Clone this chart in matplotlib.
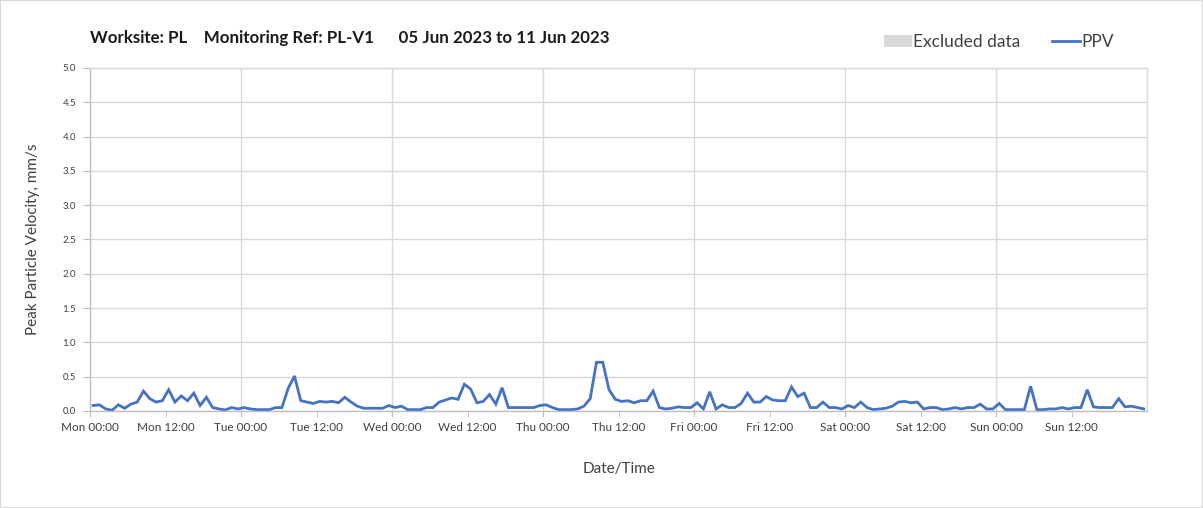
import numpy as np
import pandas as pd
import matplotlib
matplotlib.use("Agg")
import matplotlib.pyplot as plt
import matplotlib.dates as mdates
from matplotlib.patches import Patch, Rectangle
from matplotlib.lines import Line2D

plt.rcParams['font.family'] = ['Lato', 'DejaVu Sans']

# hourly PPV values (mm/s), one list per day, starting Mon 05 Jun 2023 00:30
mon = [0.08, 0.09, 0.03, 0.01, 0.09, 0.04, 0.10, 0.13, 0.29, 0.18, 0.13, 0.15,
       0.31, 0.13, 0.22, 0.15, 0.26, 0.08, 0.20, 0.05, 0.03, 0.015, 0.05, 0.03]
tue = [0.05, 0.03, 0.02, 0.02, 0.02, 0.05, 0.05, 0.33, 0.51, 0.15, 0.13, 0.11,
       0.14, 0.13, 0.14, 0.12, 0.20, 0.13, 0.07, 0.04, 0.04, 0.04, 0.04, 0.08]
wed = [0.05, 0.07, 0.02, 0.02, 0.02, 0.05, 0.05, 0.13, 0.16, 0.19, 0.17, 0.39,
       0.32, 0.12, 0.14, 0.24, 0.10, 0.34, 0.05, 0.05, 0.05, 0.05, 0.05, 0.08]
thu = [0.09, 0.05, 0.02, 0.02, 0.02, 0.03, 0.07, 0.18, 0.71, 0.71, 0.31, 0.17,
       0.14, 0.15, 0.12, 0.15, 0.15, 0.29, 0.05, 0.03, 0.04, 0.06, 0.05, 0.05]
fri = [0.12, 0.03, 0.28, 0.03, 0.09, 0.05, 0.05, 0.11, 0.26, 0.13, 0.13, 0.21,
       0.16, 0.15, 0.15, 0.35, 0.21, 0.26, 0.05, 0.05, 0.13, 0.05, 0.05, 0.03]
sat = [0.08, 0.05, 0.13, 0.05, 0.02, 0.03, 0.04, 0.07, 0.13, 0.14, 0.12, 0.13,
       0.03, 0.05, 0.05, 0.02, 0.03, 0.05, 0.03, 0.05, 0.05, 0.10, 0.03, 0.03]
sun = [0.11, 0.02, 0.02, 0.02, 0.02, 0.36, 0.02, 0.02, 0.03, 0.03, 0.05, 0.03,
       0.05, 0.05, 0.31, 0.06, 0.05, 0.05, 0.05, 0.18, 0.06, 0.07, 0.05, 0.03]

ppv = mon + tue + wed + thu + fri + sat + sun
times = pd.date_range("2023-06-05 00:30", periods=len(ppv), freq="h")

y_ticks = np.arange(0, 5.01, 0.5)
day_ticks = pd.date_range("2023-06-05", "2023-06-11", freq="D")
noon_ticks = day_ticks + pd.Timedelta(hours=12)

title = "Worksite: PL    Monitoring Ref: PL-V1      05 Jun 2023 to 11 Jun 2023"

W, H = 1203, 508
fig = plt.figure(figsize=(W / 100, H / 100), dpi=100)
ax = fig.add_axes([90 / W, 1 - 411 / H, (1147 - 90) / W, (411 - 68) / H])

grid_c = "#d9d9d9"
ax.plot(times, ppv, color="#4472C4", lw=2.0, solid_joinstyle="miter")

ax.set_xlim(pd.Timestamp("2023-06-05"), pd.Timestamp("2023-06-12"))
ax.set_ylim(0, 5.0)
ax.set_yticks(y_ticks)
ax.yaxis.set_major_formatter(matplotlib.ticker.FormatStrFormatter("%.1f"))

ax.set_xticks(day_ticks)
ax.set_xticks(noon_ticks, minor=True)
fmt = mdates.DateFormatter("%a %H:%M")
ax.xaxis.set_major_formatter(fmt)
ax.xaxis.set_minor_formatter(fmt)

ax.grid(True, which="major", axis="both", color=grid_c, lw=1.0)
ax.set_axisbelow(True)
for s in ax.spines.values():
    s.set_color(grid_c)
    s.set_linewidth(1.0)
ax.spines["left"].set_color("#bfbfbf")
ax.spines["bottom"].set_color("#bfbfbf")

ax.tick_params(axis="y", which="major", labelsize=7, colors="#bfbfbf",
               labelcolor="#404040", length=5, pad=5)
ax.tick_params(axis="x", which="both", labelsize=8.5, colors="#bfbfbf",
               labelcolor="#404040", length=4, pad=4)

ax.set_ylabel("Peak Particle Velocity, mm/s", fontsize=11, color="#404040",
              labelpad=16)
ax.set_xlabel("Date/Time", fontsize=11, color="#404040", labelpad=21)

fig.text(90 / W, 1 - 38 / H, title, fontsize=12.2, fontweight="bold",
         color="#1a1a1a", va="center", ha="left")

handles = [Patch(facecolor="#d9d9d9", edgecolor="none", label="Excluded data"),
           Line2D([0], [0], color="#4472C4", lw=2.0, label="PPV")]
fig.legend(handles=handles, loc="center right", bbox_to_anchor=(1114 / W, 1 - 42 / H),
           ncol=2, frameon=False, fontsize=12.5, handlelength=1.6, handleheight=0.7,
           handletextpad=0.1, columnspacing=1.8, labelcolor="#404040",
           borderaxespad=0, borderpad=0)

fig.patches.append(Rectangle((0, 0), 1, 1, transform=fig.transFigure, fill=False,
                             edgecolor="#d9d9d9", lw=1.5))

fig.savefig("out.png", dpi=100)
